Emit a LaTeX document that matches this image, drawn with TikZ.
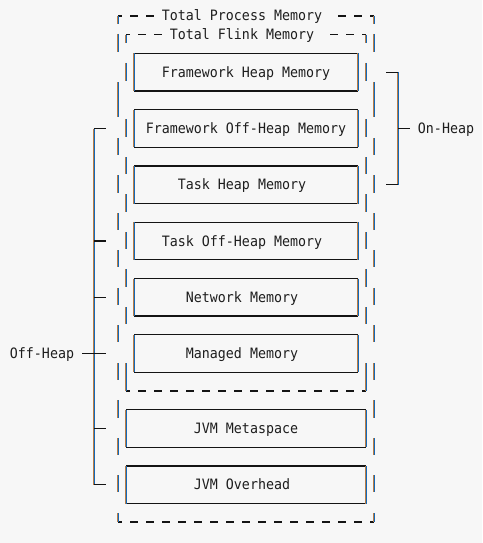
\documentclass[tikz,border=0pt]{standalone}
\usepackage{fontspec}
\newfontfamily\monof[FakeStretch=0.93]{DejaVu Sans Mono}
\definecolor{bg}{RGB}{247,247,247}
\definecolor{vblue}{RGB}{20,105,185}
\definecolor{vorng}{RGB}{185,125,70}
\definecolor{hblk}{RGB}{20,20,20}
\definecolor{txt}{RGB}{30,30,30}
\tikzset{
 hl/.style={draw=hblk, line width=1.1pt},
 vo/.style={draw=vorng, line width=1pt},
 vb/.style={draw=vblue, line width=1pt},
 boxn/.style={inner sep=0pt, outer sep=0pt, minimum height=37.5pt},
 lbl/.style={inner sep=0pt, anchor=base, text=txt, font=\monof\fontsize{14.3}{17}\selectfont},
}
\newcommand\vsg[3]{%
  \draw[vo] (#1-0.5,#2) -- (#1-0.5,#3);
  \draw[vb] (#1+0.5,#2) -- (#1+0.5,#3);}
\newcommand\vnd[2]{%
  \draw[vo] ([xshift=-0.5pt]#1) -- ([xshift=-0.5pt]#2);
  \draw[vb] ([xshift=0.5pt]#1) -- ([xshift=0.5pt]#2);}
\newcommand\hd[2]{%
  \draw[hl] (#1-3.9,#2) -- (#1+3.9,#2);}
\begin{document}
\begin{tikzpicture}[x=1pt,y=-1pt]
\fill[bg] (0,0) rectangle (482,543);
\useasboundingbox (0,0) rectangle (482,543);

% ---- outer container: Total Process Memory
\draw[hl] (118,16) -- (122,16);
\draw[hl] (370,16) -- (374,16);
\vsg{118}{16}{24.5}
\vsg{374}{16}{24.5}
\foreach \j in {2,4,28,30} {\hd{118+8*\j}{16}}
\foreach \j in {2,4,...,30} {\hd{118+8*\j}{522}}
\draw[hl] (118,522) -- (122,522);
\draw[hl] (370,522) -- (374,522);
\vsg{118}{513}{522}
\vsg{374}{513}{522}
\foreach \a/\b in {34/52,82/117,138/155,175/193,213/230,250/267,288/305,325/342,363/380,400/418,438/455,475/492}
  {\vsg{118}{\a}{\b}\vsg{374}{\a}{\b}}
\node[lbl] (tpm) at (242,21) {Total Process Memory};

% ---- inner container: Total Flink Memory
\draw[hl] (126,34.75) -- (130,34.75);
\draw[hl] (362,34.75) -- (366,34.75);
\vsg{126}{34.75}{43}
\vsg{366}{34.75}{43}
\foreach \j in {3,5,27,29} {\hd{118+8*\j}{34.75}}
\foreach \j in {3,5,...,29} {\hd{118+8*\j}{391}}
\draw[hl] (126,391) -- (130,391);
\draw[hl] (362,391) -- (366,391);
\foreach \a/\b in {63/81,119/137,157/174,194/212,232/249,269/287,307/324,363/391}
  {\vsg{126}{\a}{\b}\vsg{366}{\a}{\b}}
\node[lbl] (tfm) at (242,39.75) {Total Flink Memory};

% ---- memory boxes
\node[boxn, minimum width=224pt] (fhm)  at (246,72.25)  {};
\node[boxn, minimum width=224pt] (fohm) at (246,128.5)  {};
\node[boxn, minimum width=224pt] (thm)  at (246,184.75) {};
\node[boxn, minimum width=224pt] (tohm) at (246,241)    {};
\node[boxn, minimum width=224pt] (nm)   at (246,297.25) {};
\node[boxn, minimum width=224pt] (mm)   at (246,353.5)  {};
\node[boxn, minimum width=240pt] (jms)  at (246,428.5)  {};
\node[boxn, minimum width=240pt] (jvo)  at (246,484.75) {};
\foreach \n in {fhm,fohm,thm,tohm,nm,mm,jms,jvo} {
  \draw[hl] (\n.north west) -- (\n.north east);
  \draw[hl] (\n.south west) -- (\n.south east);
  \vnd{\n.north west}{\n.south west}
  \vnd{\n.north east}{\n.south east}
}
\node[lbl] (l-fhm)  at ([yshift=-5pt]fhm.center) {Framework Heap Memory};
\node[lbl] (l-fohm) at ([yshift=-5pt]fohm.center) {Framework Off-Heap Memory};
\node[lbl] (l-thm)  at ([xshift=-4pt,yshift=-5pt]thm.center) {Task Heap Memory};
\node[lbl] (l-tohm) at ([xshift=-4pt,yshift=-5pt]tohm.center) {Task Off-Heap Memory};
\node[lbl] (l-nm)   at ([xshift=-4pt,yshift=-5pt]nm.center) {Network Memory};
\node[lbl] (l-mm)   at ([xshift=-4pt,yshift=-5pt]mm.center) {Managed Memory};
\node[lbl] (l-jms)  at ([yshift=-5pt]jms.center) {JVM Metaspace};
\node[lbl] (l-jvo)  at ([xshift=-4pt,yshift=-5pt]jvo.center) {JVM Overhead};

% ---- On-Heap bracket
\coordinate (onT) at (398,72.25);
\coordinate (onB) at (398,184.75);
\coordinate (onM) at (398,128.5);
\coordinate (onTL) at (386,72.25);
\coordinate (onBL) at (386,184.75);
\coordinate (onMR) at (410,128.5);
\vnd{onT}{onB}
\draw[hl] (onTL) -- (onT);
\draw[hl] (onBL) -- (onB);
\draw[hl] (onM) -- (onMR);
\node[lbl] (onh) at (446,133.5) {On-Heap};

% ---- Off-Heap bracket
\coordinate (ofT) at (94,128.5);
\coordinate (ofB) at (94,484.75);
\vnd{ofT}{ofB}
\coordinate (ofTR) at (106,128.5);
\coordinate (ofBR) at (106,484.75);
\draw[hl] (ofT) -- (ofTR);
\draw[hl] (ofB) -- (ofBR);
\coordinate (of1) at (94,241);     \coordinate (of1r) at (106,241);
\coordinate (of2) at (94,297.25);  \coordinate (of2r) at (106,297.25);
\coordinate (of3) at (94,428.5);   \coordinate (of3r) at (106,428.5);
\coordinate (ofM) at (82,353.5);   \coordinate (ofMr) at (106,353.5);
\draw[hl] (of1) -- (of1r);
\draw[hl] (of2) -- (of2r);
\draw[hl] (of3) -- (of3r);
\draw[hl] (ofM) -- (ofMr);
\node[lbl] (offh) at (42,358.5) {Off-Heap};
\end{tikzpicture}
\end{document}
